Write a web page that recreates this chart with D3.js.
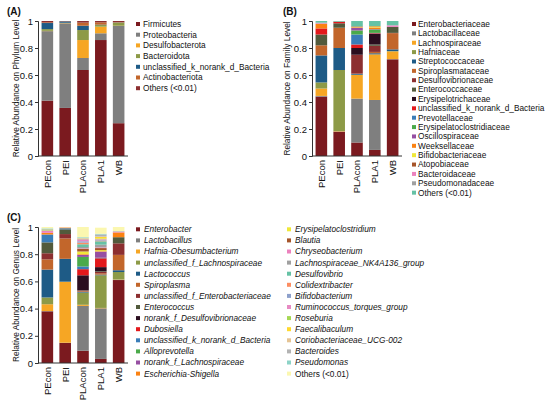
<!DOCTYPE html>
<html>
<head>
<meta charset="utf-8">
<script src="https://cdn.jsdelivr.net/npm/d3@7"></script>
<style>
  body { margin: 0; background: #fff; }
  svg { display: block; }
  text { font-family: "Liberation Sans", Arial, Helvetica, sans-serif; fill: #111; }
</style>
</head>
<body>
<svg id="chart" width="550" height="402"></svg>
<script>
//// samples on the x axis
const samples = ["PEcon", "PEI", "PLAcon", "PLA1", "WB"];
const yTicks = [0, 0.2, 0.4, 0.6, 0.8, 1];

//// shared colour sequence (first taxon gets first colour)
const palette = ["#7b1a1f", "#7f7f7f", "#f6a624", "#8d9a47", "#1e5b86", "#c2662b", "#8c2f30",
  "#525a3c", "#2b0e1f", "#e3191c", "#3a7db8", "#4baa4a", "#964fa2", "#fb8212", "#efe839",
  "#a6552a", "#ec82be", "#a0a0a0", "#66c2a5", "#fc8d62", "#8da0cb", "#e78ac3", "#a6d854",
  "#ffd92f", "#e5c494", "#b3b3b3", "#8dd3c7", "#fbf7b0"];

//// (A) phylum
const phylumNames = ["Firmicutes", "Proteobacteria", "Desulfobacterota", "Bacteroidota",
  "unclassified_k_norank_d_Bacteria", "Actinobacteriota", "Others (<0.01)"];
const phylumValues = [
  [0.410, 0.515, 0.002, 0.013, 0.045, 0.005, 0.010],   // PEcon
  [0.356, 0.627, 0.002, 0.002, 0.010, 0.001, 0.002],   // PEI
  [0.637, 0.089, 0.133, 0.074, 0.032, 0.023, 0.012],   // PLAcon
  [0.859, 0.050, 0.049, 0.012, 0.003, 0.017, 0.010],   // PLA1
  [0.243, 0.720, 0.002, 0.022, 0.002, 0.003, 0.008]    // WB
];

//// (B) family
const familyNames = ["Enterobacteriaceae", "Lactobacillaceae", "Lachnospiraceae", "Hafniaceae",
  "Streptococcaceae", "Spiroplasmataceae", "Desulfovibrionaceae", "Enterococcaceae",
  "Erysipelotrichaceae", "unclassified_k_norank_d_Bacteria", "Prevotellaceae",
  "Erysipelatoclostridiaceae", "Oscillospiraceae", "Weeksellaceae", "Bifidobacteriaceae",
  "Atopobiaceae", "Bacteroidaceae", "Pseudomonadaceae", "Others (<0.01)"];
const familyValues = [
  [0.440, 0.005, 0.055, 0.045, 0.200, 0.075, 0.000, 0.080, 0.000, 0.045, 0.000, 0.000, 0.000, 0.033, 0.000, 0.000, 0.005, 0.005, 0.012],
  [0.180, 0.002, 0.003, 0.452, 0.163, 0.150, 0.000, 0.033, 0.000, 0.012, 0.000, 0.000, 0.000, 0.000, 0.000, 0.000, 0.000, 0.000, 0.005],
  [0.100, 0.325, 0.175, 0.002, 0.006, 0.002, 0.140, 0.000, 0.050, 0.026, 0.074, 0.030, 0.020, 0.004, 0.002, 0.004, 0.000, 0.000, 0.040],
  [0.045, 0.370, 0.338, 0.000, 0.008, 0.010, 0.045, 0.010, 0.080, 0.004, 0.002, 0.025, 0.003, 0.012, 0.008, 0.003, 0.000, 0.000, 0.037],
  [0.716, 0.002, 0.057, 0.002, 0.013, 0.120, 0.002, 0.044, 0.000, 0.000, 0.000, 0.000, 0.000, 0.000, 0.000, 0.000, 0.012, 0.000, 0.032]
];

//// (C) genus
const genusNames = ["Enterobacter", "Lactobacillus", "Hafnia-Obesumbacterium",
  "unclassified_f_Lachnospiraceae", "Lactococcus", "Spiroplasma",
  "unclassified_f_Enterobacteriaceae", "Enterococcus", "norank_f_Desulfovibrionaceae",
  "Dubosiella", "unclassified_k_norank_d_Bacteria", "Alloprevotella",
  "norank_f_Lachnospiraceae", "Escherichia-Shigella", "Erysipelatoclostridium", "Blautia",
  "Chryseobacterium", "Lachnospiraceae_NK4A136_group", "Desulfovibrio", "Colidextribacter",
  "Bifidobacterium", "Ruminococcus_torques_group", "Roseburia", "Faecalibaculum",
  "Coriobacteriaceae_UCG-002", "Bacteroides", "Pseudomonas", "Others (<0.01)"];
const genusValues = [
  [0.380, 0.002, 0.050, 0.050, 0.205, 0.075, 0.045, 0.080, 0.000, 0.000, 0.058, 0.000, 0.000, 0.012,
   0.000, 0.000, 0.017, 0.000, 0.000, 0.000, 0.000, 0.000, 0.008, 0.000, 0.000, 0.004, 0.004, 0.010],
  [0.147, 0.002, 0.447, 0.002, 0.168, 0.150, 0.032, 0.035, 0.000, 0.000, 0.008, 0.000, 0.000, 0.004,
   0.000, 0.000, 0.000, 0.000, 0.000, 0.003, 0.000, 0.000, 0.000, 0.000, 0.000, 0.000, 0.000, 0.002],
  [0.090, 0.330, 0.008, 0.090, 0.005, 0.005, 0.005, 0.002, 0.110, 0.045, 0.020, 0.070, 0.015, 0.005,
   0.020, 0.020, 0.003, 0.010, 0.020, 0.012, 0.010, 0.015, 0.003, 0.002, 0.002, 0.003, 0.005, 0.075],
  [0.030, 0.372, 0.003, 0.240, 0.005, 0.010, 0.010, 0.005, 0.030, 0.065, 0.002, 0.002, 0.045, 0.003,
   0.008, 0.015, 0.005, 0.020, 0.025, 0.005, 0.005, 0.005, 0.005, 0.012, 0.003, 0.015, 0.005, 0.045],
  [0.610, 0.002, 0.002, 0.055, 0.013, 0.113, 0.085, 0.045, 0.000, 0.000, 0.000, 0.000, 0.000, 0.035,
   0.000, 0.000, 0.005, 0.000, 0.000, 0.000, 0.000, 0.000, 0.000, 0.000, 0.000, 0.005, 0.000, 0.030]
];

const svg = d3.select("#chart");

function drawPanel(opts) {
  const g = svg.append("g");
  const names = opts.names;
  const table = samples.map((s, i) => {
    const row = { sample: s };
    names.forEach((n, j) => { row[n] = opts.values[i][j]; });
    return row;
  });
  const series = d3.stack().keys(names)(table);
  const color = d3.scaleOrdinal().domain(names).range(palette.slice(0, names.length));

  const x = d3.scaleBand().domain(samples).range(opts.xRange).paddingInner(0.35).paddingOuter(0.2);
  const y = d3.scaleLinear().domain([0, 1]).range(opts.yRange);

  // stacked bars
  g.selectAll("g.layer")
    .data(series)
    .join("g")
      .attr("class", "layer")
      .attr("fill", d => color(d.key))
    .selectAll("rect")
    .data(d => d)
    .join("rect")
      .attr("x", d => x(d.data.sample))
      .attr("width", x.bandwidth())
      .attr("y", d => y(d[1]))
      .attr("height", d => Math.max(0, y(d[0]) - y(d[1])));

  // y axis
  const yAxis = g.append("g")
    .attr("transform", `translate(${opts.xRange[0]},0)`)
    .call(d3.axisLeft(y).tickValues(yTicks).tickFormat(d3.format("~g")).tickSize(3).tickPadding(2));
  yAxis.selectAll("text").style("font-size", "9.5px");
  yAxis.selectAll("line, path").attr("stroke", "#333");

  // x axis (line only, rotated labels)
  const xAxis = g.append("g")
    .attr("transform", `translate(0,${opts.yRange[0]})`)
    .call(d3.axisBottom(x).tickSize(0).tickPadding(4));
  xAxis.select(".domain").attr("stroke", "#333")
    .attr("d", `M${opts.xRange[0]},0H${opts.xRange[1]}`);
  xAxis.selectAll("text")
    .style("font-size", "9.5px")
    .attr("text-anchor", "end")
    .attr("transform", "rotate(-90)")
    .attr("x", -4)
    .attr("y", 0)
    .attr("dy", "0.35em");

  // y title
  g.append("text")
    .attr("transform", `translate(${opts.titleX},${(opts.yRange[0] + opts.yRange[1]) / 2}) rotate(-90)`)
    .attr("text-anchor", "middle")
    .attr("dy", "0.35em")
    .style("font-size", "8.3px")
    .text(opts.yTitle);

  // panel letter
  g.append("text")
    .attr("x", opts.letterPos[0])
    .attr("y", opts.letterPos[1])
    .style("font-size", "10px")
    .style("font-weight", "bold")
    .text(opts.letter);

  // legend, one or more columns
  opts.legendCols.forEach(col => {
    const items = names.slice(col.from, col.to);
    const lg = g.append("g").selectAll("g")
      .data(items)
      .join("g")
        .attr("transform", (d, i) => `translate(${col.x},${col.y + i * opts.legendStep})`);
    lg.append("rect")
      .attr("x", 0).attr("y", -2).attr("width", 4).attr("height", 4)
      .attr("fill", d => color(d));
    lg.append("text")
      .attr("x", opts.legendGap)
      .attr("dy", "0.35em")
      .style("font-size", "8.3px")
      .style("font-style", d => (opts.italic && !d.startsWith("Others")) ? "italic" : "normal")
      .text(d => d);
  });
}

drawPanel({
  names: phylumNames, values: phylumValues,
  xRange: [38, 128], yRange: [156, 21], titleX: 16,
  yTitle: "Relative Abundance on Phylum Level",
  letter: "(A)", letterPos: [7, 15],
  legendCols: [{ from: 0, to: 7, x: 136, y: 24 }], legendStep: 10.7, legendGap: 7
});

drawPanel({
  names: familyNames, values: familyValues,
  xRange: [312, 402], yRange: [156, 21], titleX: 287,
  yTitle: "Relative Abundance on Family Level",
  letter: "(B)", letterPos: [283, 15],
  legendCols: [{ from: 0, to: 19, x: 412, y: 24 }], legendStep: 9.37, legendGap: 6
});

drawPanel({
  names: genusNames, values: genusValues, italic: true,
  xRange: [38, 128], yRange: [363, 227], titleX: 16,
  yTitle: "Relative Abundance on Genus Level",
  letter: "(C)", letterPos: [7, 221],
  legendCols: [{ from: 0, to: 14, x: 136, y: 229.3 }, { from: 14, to: 28, x: 287, y: 229.3 }],
  legendStep: 11.1, legendGap: 8
});
</script>
</body>
</html>
